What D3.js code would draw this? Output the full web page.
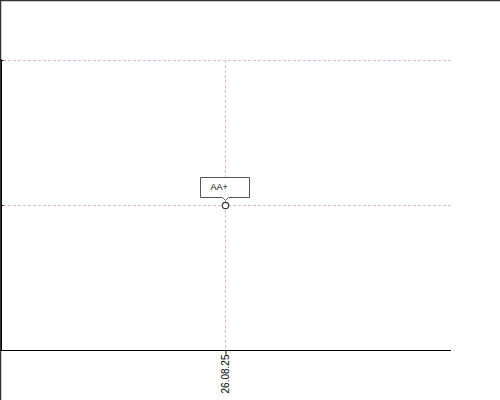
<!DOCTYPE html>
<html><head><meta charset="utf-8">
<script src="https://cdn.jsdelivr.net/npm/d3@7"></script>
<style>body{margin:0;background:#fff}svg{display:block}</style>
</head><body>
<script>
const categories = ["26.08.25"];
const values = [1];
const pointLabels = ["AA+"];
const yTicks = [1, 2];

const W = 500, H = 400;
const svg = d3.select("body").append("svg").attr("width", W).attr("height", H);
svg.append("path").attr("d", `M0.5,${H} V0.5 H${W}`).attr("fill", "none").attr("stroke", "#333").attr("stroke-width", 1.5);

const x = d3.scalePoint().domain(categories).range([0, 450]).padding(0.5);
const y = d3.scaleLinear().domain([0, 2]).range([350, 60]);
const grid = "#e8b7bf";

// horizontal gridlines
svg.append("g").selectAll("line").data(yTicks).join("line")
  .attr("x1", 3).attr("x2", 450)
  .attr("y1", d => y(d) + 0.5).attr("y2", d => y(d) + 0.5)
  .attr("stroke", grid).attr("stroke-dasharray", "3,2");
// vertical gridlines
svg.append("g").selectAll("line").data(categories).join("line")
  .attr("x1", d => x(d) + 0.5).attr("x2", d => x(d) + 0.5)
  .attr("y1", y(2)).attr("y2", y(0))
  .attr("stroke", grid).attr("stroke-dasharray", "3,2");

// y axis
const ya = svg.append("g").attr("transform", "translate(1.5,0)")
  .call(d3.axisLeft(y).tickValues(yTicks).tickSize(2).tickFormat(""));
ya.select(".domain").attr("d", `M-2,${y(2)}H0V${y(0)}`).attr("stroke", "#000");
ya.selectAll("line").attr("stroke", "#000").attr("x1", 2).attr("x2", -1);

// x axis
const xa = svg.append("g").attr("transform", `translate(0,${y(0) + 0.5})`)
  .call(d3.axisBottom(x).tickSize(4).tickSizeOuter(0));
xa.select(".domain").attr("stroke", "#000").attr("d", "M0,0H451");
xa.selectAll(".tick line").attr("stroke", "#000").attr("transform", "translate(0.5,0)");
xa.selectAll(".tick text")
  .attr("font-family", "Liberation Sans, Arial, sans-serif").attr("font-size", 10).attr("fill", "#000")
  .attr("transform", "rotate(-90)").attr("text-anchor", "end")
  .attr("x", -4).attr("y", 0).attr("dy", "0.35em").attr("dx", null);

// tooltips
const data = categories.map((c, i) => ({c, v: values[i], l: pointLabels[i]}));
data.forEach(d => {
  const cx = x(d.c) + 0.5, cy = y(d.v) + 0.5;
  const bw = 49, bh = 20, left = cx - 25, top = cy - 28, bottom = top + bh;
  svg.append("path")
    .attr("d", `M${left},${top}H${left + bw}V${bottom}H${cx + 3}L${cx},${bottom + 3}L${cx - 3},${bottom}H${left}Z`)
    .attr("fill", "#fff").attr("stroke", "#555").attr("stroke-width", 1);
  svg.append("text").attr("x", left + 10).attr("y", top + 12)
    .attr("font-family", "Liberation Sans, Arial, sans-serif").attr("font-size", 9).attr("fill", "#000").text(d.l);
  svg.append("circle").attr("cx", cx).attr("cy", cy).attr("r", 3.2)
    .attr("fill", "#fff").attr("stroke", "#333").attr("stroke-width", 1.2);
});
</script>
</body></html>
